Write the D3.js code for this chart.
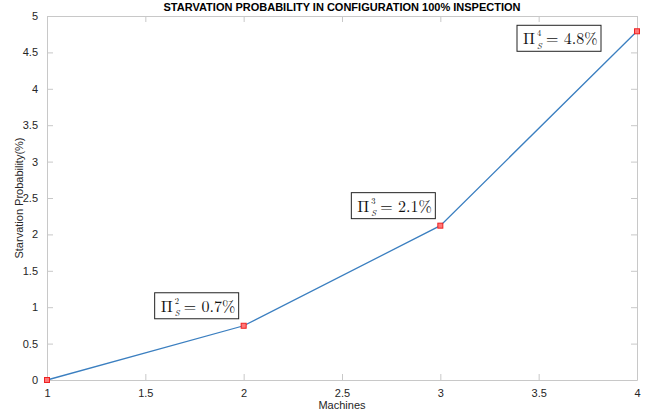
<!DOCTYPE html>
<html>
<head>
<meta charset="utf-8">
<script src="https://cdn.jsdelivr.net/npm/d3@7"></script>
<style>
  body { margin: 0; background: #fff; }
  text { font-family: Helvetica, "Liberation Sans", Arial, sans-serif; }
  .tick text { fill: #262626; font-size: 11px; }
  .note { font-family: "Latin Modern Roman", "DejaVu Serif", "Liberation Serif", serif; }
</style>
</head>
<body>
<div id="chart"></div>
<script>
// data
var machines = [1, 2, 3, 4];
var starvation = [0, 0.745, 2.12, 4.79];
var notes = [
  { i: 1, sup: "2", label: "0.7%" },
  { i: 2, sup: "3", label: "2.1%" },
  { i: 3, sup: "4", label: "4.8%" }
];
var xTicks = [1, 1.5, 2, 2.5, 3, 3.5, 4];
var yTicks = [0, 0.5, 1, 1.5, 2, 2.5, 3, 3.5, 4, 4.5, 5];

var svgWidth = 652, svgHeight = 414;
var margin = { top: 16, right: 15, bottom: 34, left: 47 };
var width = svgWidth - margin.left - margin.right;
var height = svgHeight - margin.top - margin.bottom;

var svg = d3.select("#chart").append("svg")
  .attr("width", svgWidth)
  .attr("height", svgHeight);

var g = svg.append("g")
  .attr("transform", `translate(${margin.left}, ${margin.top})`);

var x = d3.scaleLinear().domain([1, 4]).range([0, width]);
var y = d3.scaleLinear().domain([0, 5]).range([height, 0]);

var fmt = d3.format("");

// axes (MATLAB style box, inward ticks)
var axisColor = "#c8c8c8";
var axBottom = g.append("g").attr("transform", `translate(0,${height})`)
  .call(d3.axisBottom(x).tickValues(xTicks).tickFormat(fmt).tickSizeInner(-6).tickSizeOuter(0).tickPadding(9));
var axTop = g.append("g")
  .call(d3.axisTop(x).tickValues(xTicks).tickFormat("").tickSizeInner(-6).tickSizeOuter(0));
var axLeft = g.append("g")
  .call(d3.axisLeft(y).tickValues(yTicks).tickFormat(fmt).tickSizeInner(-6).tickSizeOuter(0).tickPadding(9));
var axRight = g.append("g").attr("transform", `translate(${width},0)`)
  .call(d3.axisRight(y).tickValues(yTicks).tickFormat("").tickSizeInner(-6).tickSizeOuter(0));

[axBottom, axTop, axLeft, axRight].forEach(function(a) {
  a.selectAll(".domain").attr("stroke", axisColor);
  a.selectAll(".tick line").attr("stroke", axisColor);
});

// line
var pts = machines.map(function(m, i) { return [m, starvation[i]]; });
g.append("path")
  .datum(pts)
  .attr("fill", "none")
  .attr("stroke", "#3b7fc0")
  .attr("stroke-width", 1.3)
  .attr("d", d3.line().x(d => x(d[0])).y(d => y(d[1])));

g.selectAll(".mk")
  .data(pts)
  .enter().append("rect")
  .attr("x", d => x(d[0]) - 2.5)
  .attr("y", d => y(d[1]) - 2.5)
  .attr("width", 5)
  .attr("height", 5)
  .attr("fill", "#f77")
  .attr("stroke", "#e22")
  .attr("stroke-width", 1);

// annotation boxes: Π with stacked super/subscript, as separate texts
var boxW = 84, boxH = 26;
notes.forEach(function(n) {
  var px = x(machines[n.i]), py = y(starvation[n.i]);
  var bx = px - boxW - 5, by = py - boxH - 7;
  if (n.i === 3) { bx = px - boxW - 36; by = py - boxH + 20; }
  var grp = g.append("g").attr("transform", `translate(${bx},${by})`);
  grp.append("rect")
    .attr("width", boxW).attr("height", boxH)
    .attr("fill", "#fff").attr("stroke", "#222").attr("stroke-width", 1);
  grp.append("text").attr("class", "note")
    .attr("x", 6).attr("y", 19)
    .attr("font-size", 16).attr("fill", "#111")
    .text("\u03A0");
  grp.append("text").attr("class", "note")
    .attr("x", 20).attr("y", 11)
    .attr("font-size", 8.5).attr("fill", "#111")
    .text(n.sup);
  grp.append("text").attr("class", "note")
    .attr("x", 20).attr("y", 23.5)
    .attr("font-size", 8.5).attr("font-style", "italic").attr("fill", "#111")
    .text("S");
  grp.append("text").attr("class", "note")
    .attr("x", 29).attr("y", 19)
    .attr("font-size", 16).attr("fill", "#111")
    .text("= " + n.label);
});

// labels
svg.append("text")
  .attr("x", margin.left + width / 2).attr("y", 11)
  .attr("text-anchor", "middle")
  .attr("font-size", 11).attr("font-weight", "bold")
  .text("STARVATION PROBABILITY IN CONFIGURATION 100% INSPECTION");

svg.append("text")
  .attr("x", margin.left + width / 2).attr("y", 409)
  .attr("text-anchor", "middle")
  .attr("font-size", 11).attr("fill", "#262626")
  .text("Machines");

svg.append("text")
  .attr("transform", `translate(23,${margin.top + height / 2}) rotate(-90)`)
  .attr("text-anchor", "middle")
  .attr("font-size", 11).attr("fill", "#262626")
  .text("Starvation Probability(%)");
</script>
</body>
</html>
